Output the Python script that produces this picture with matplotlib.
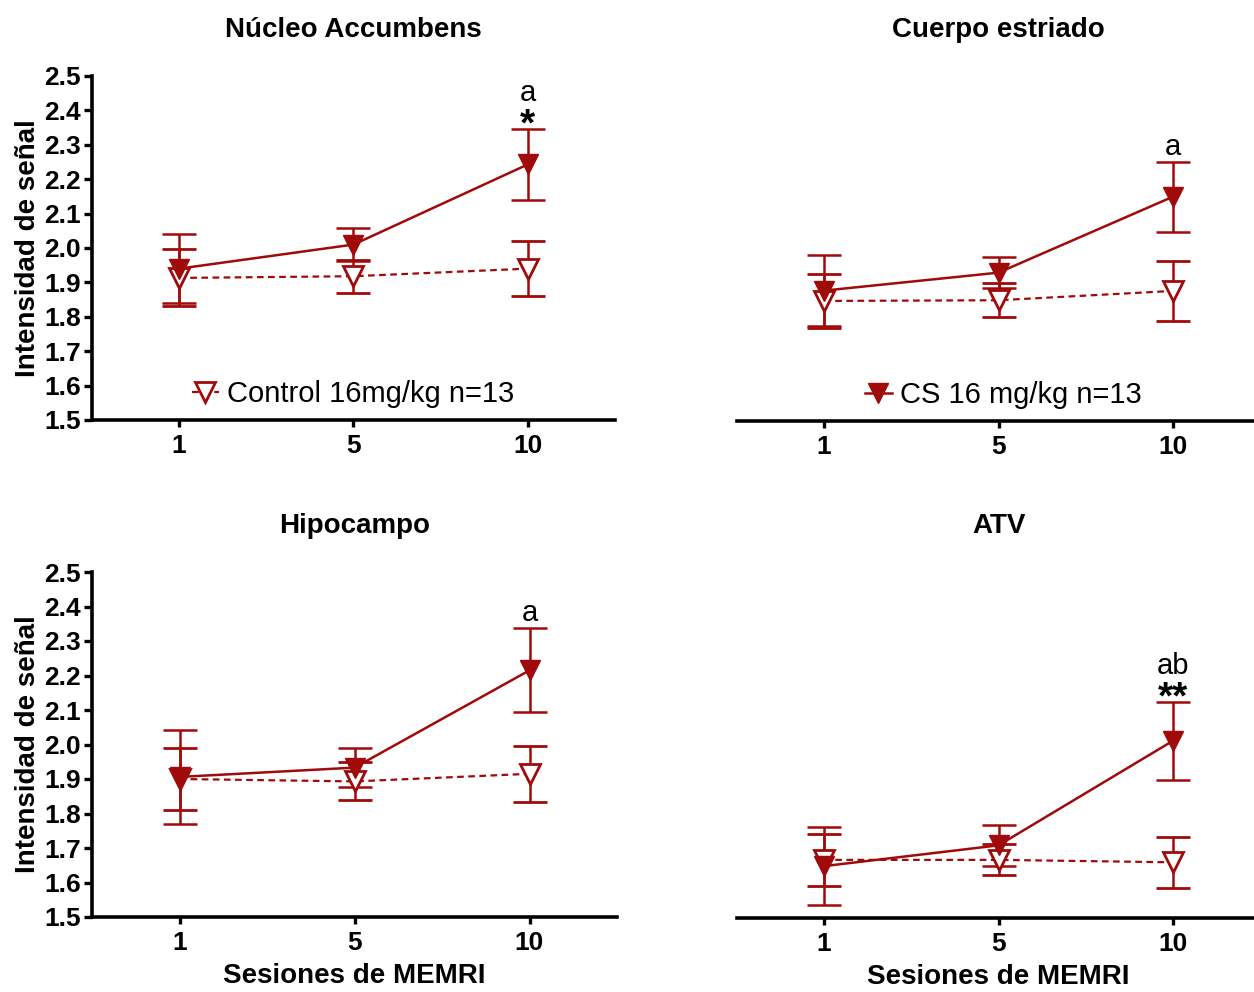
"""
Intensidad de señal MEMRI por región: Control vs CS 16 mg/kg.
"""
import matplotlib
matplotlib.use('Agg')
import matplotlib.pyplot as plt
from matplotlib.lines import Line2D
import numpy as np

plt.rcParams['font.family'] = ['Liberation Sans', 'DejaVu Sans']

###############################################################################
# Datos
###############################################################################

sessions = ['1', '5', '10']
regions = ['Núcleo Accumbens', 'Cuerpo estriado', 'Hipocampo', 'ATV']

cs_mean = {
    'Núcleo Accumbens': [1.940, 2.010, 2.243],
    'Cuerpo estriado': [1.878, 1.930, 2.150],
    'Hipocampo': [1.906, 1.933, 2.215],
    'ATV': [1.650, 1.710, 2.012],
}
cs_err = {
    'Núcleo Accumbens': [0.100, 0.048, 0.103],
    'Cuerpo estriado': [0.102, 0.045, 0.101],
    'Hipocampo': [0.135, 0.057, 0.122],
    'ATV': [0.112, 0.060, 0.113],
}
ctl_mean = {
    'Núcleo Accumbens': [1.913, 1.918, 1.940],
    'Cuerpo estriado': [1.848, 1.850, 1.877],
    'Hipocampo': [1.900, 1.893, 1.915],
    'ATV': [1.668, 1.668, 1.661],
}
ctl_err = {
    'Núcleo Accumbens': [0.083, 0.048, 0.080],
    'Cuerpo estriado': [0.077, 0.050, 0.087],
    'Hipocampo': [0.090, 0.055, 0.082],
    'ATV': [0.075, 0.045, 0.073],
}

# letras / asteriscos sobre la sesión 10
letters = {'Núcleo Accumbens': 'a', 'Cuerpo estriado': 'a',
           'Hipocampo': 'a', 'ATV': 'ab'}
stars = {'Núcleo Accumbens': '*', 'Cuerpo estriado': '',
         'Hipocampo': '', 'ATV': '**'}

ctl_label = 'Control 16mg/kg n=13'
cs_label = 'CS 16 mg/kg n=13'

RED = '#a00a0a'

###############################################################################
# Figura
###############################################################################

fig = plt.figure(figsize=(12.54, 9.92), dpi=100)
W, H = 1254, 992

# cajas en pixeles: (izq, arriba, der, abajo)
boxes = {
    'Núcleo Accumbens': (92, 76, 615, 420),
    'Cuerpo estriado': (737, 76, 1260, 421),
    'Hipocampo': (92, 572, 617, 917),
    'ATV': (737, 572, 1260, 918),
}


def add_panel(region):
    l, t, r, b = boxes[region]
    ax = fig.add_axes([l / W, 1 - b / H, (r - l) / W, (b - t) / H])
    x = np.arange(len(sessions))
    left_col = l < 400

    ax.errorbar(x, ctl_mean[region], yerr=ctl_err[region], color=RED,
                ls=(0, (3, 2)), lw=1.6, marker='v', ms=14, mfc='white',
                mec=RED, mew=2, capsize=12, capthick=1.8, elinewidth=1.8)
    ax.errorbar(x, cs_mean[region], yerr=cs_err[region], color=RED,
                ls='-', lw=1.8, marker='v', ms=14, mfc=RED, mec=RED,
                capsize=12, capthick=1.8, elinewidth=1.8)

    top = cs_mean[region][2] + cs_err[region][2]
    if stars[region]:
        # el asterisco queda alto en la fuente: línea base bajo el tope
        ax.text(2, top - 0.019, stars[region], ha='center', va='baseline',
                fontsize=28, fontweight='bold')
        ax.text(2, top + 0.081, letters[region], ha='center', va='baseline',
                fontsize=21)
    else:
        ax.text(2, top + 0.02, letters[region], ha='center', va='baseline',
                fontsize=21)

    ax.set_xlim(-0.5, 2.5)
    ax.set_ylim(1.5, 2.5)
    ax.set_xticks(x)
    ax.set_xticklabels(sessions, fontsize=19, fontweight='bold')
    ax.set_title(region, fontsize=20, fontweight='bold', pad=28)

    for s in ['top', 'right']:
        ax.spines[s].set_visible(False)
    ax.spines['bottom'].set_linewidth(2.6)
    ax.tick_params(axis='x', length=5, width=2.4, pad=5)

    if left_col:
        ax.spines['left'].set_linewidth(2.6)
        ticks = np.arange(1.5, 2.51, 0.1)
        ax.set_yticks(ticks)
        ax.set_yticklabels([f'{v:.1f}' for v in ticks],
                           fontsize=19, fontweight='bold')
        ax.tick_params(axis='y', length=6, width=2.4, pad=2)
        ax.set_ylabel('Intensidad de señal', fontsize=20, fontweight='bold',
                      labelpad=2)
    else:
        ax.spines['left'].set_visible(False)
        ax.set_yticks([])

    if t > 500:
        ax.set_xlabel('Sesiones de MEMRI', fontsize=20, fontweight='bold',
                      labelpad=6)
    return ax


axes = {reg: add_panel(reg) for reg in regions}

# leyendas separadas: control en el primer panel, CS en el segundo
ctl_handle = Line2D([], [], color=RED, ls=(0, (3, 2)), lw=1.6, marker='v',
                    ms=14, mfc='white', mec=RED, mew=2)
cs_handle = Line2D([], [], color=RED, ls='-', lw=1.8, marker='v',
                   ms=14, mfc=RED, mec=RED)
axes['Núcleo Accumbens'].legend([ctl_handle], [ctl_label],
                                loc='lower center', frameon=False,
                                fontsize=21, handlelength=0.9,
                                handletextpad=0.3, borderaxespad=0.0,
                                bbox_to_anchor=(0.50, 0.0))
axes['Cuerpo estriado'].legend([cs_handle], [cs_label],
                               loc='lower center', frameon=False,
                               fontsize=21, handlelength=0.9,
                               handletextpad=0.3, borderaxespad=0.0,
                               bbox_to_anchor=(0.51, 0.0))

fig.savefig('out.png', dpi=100)
